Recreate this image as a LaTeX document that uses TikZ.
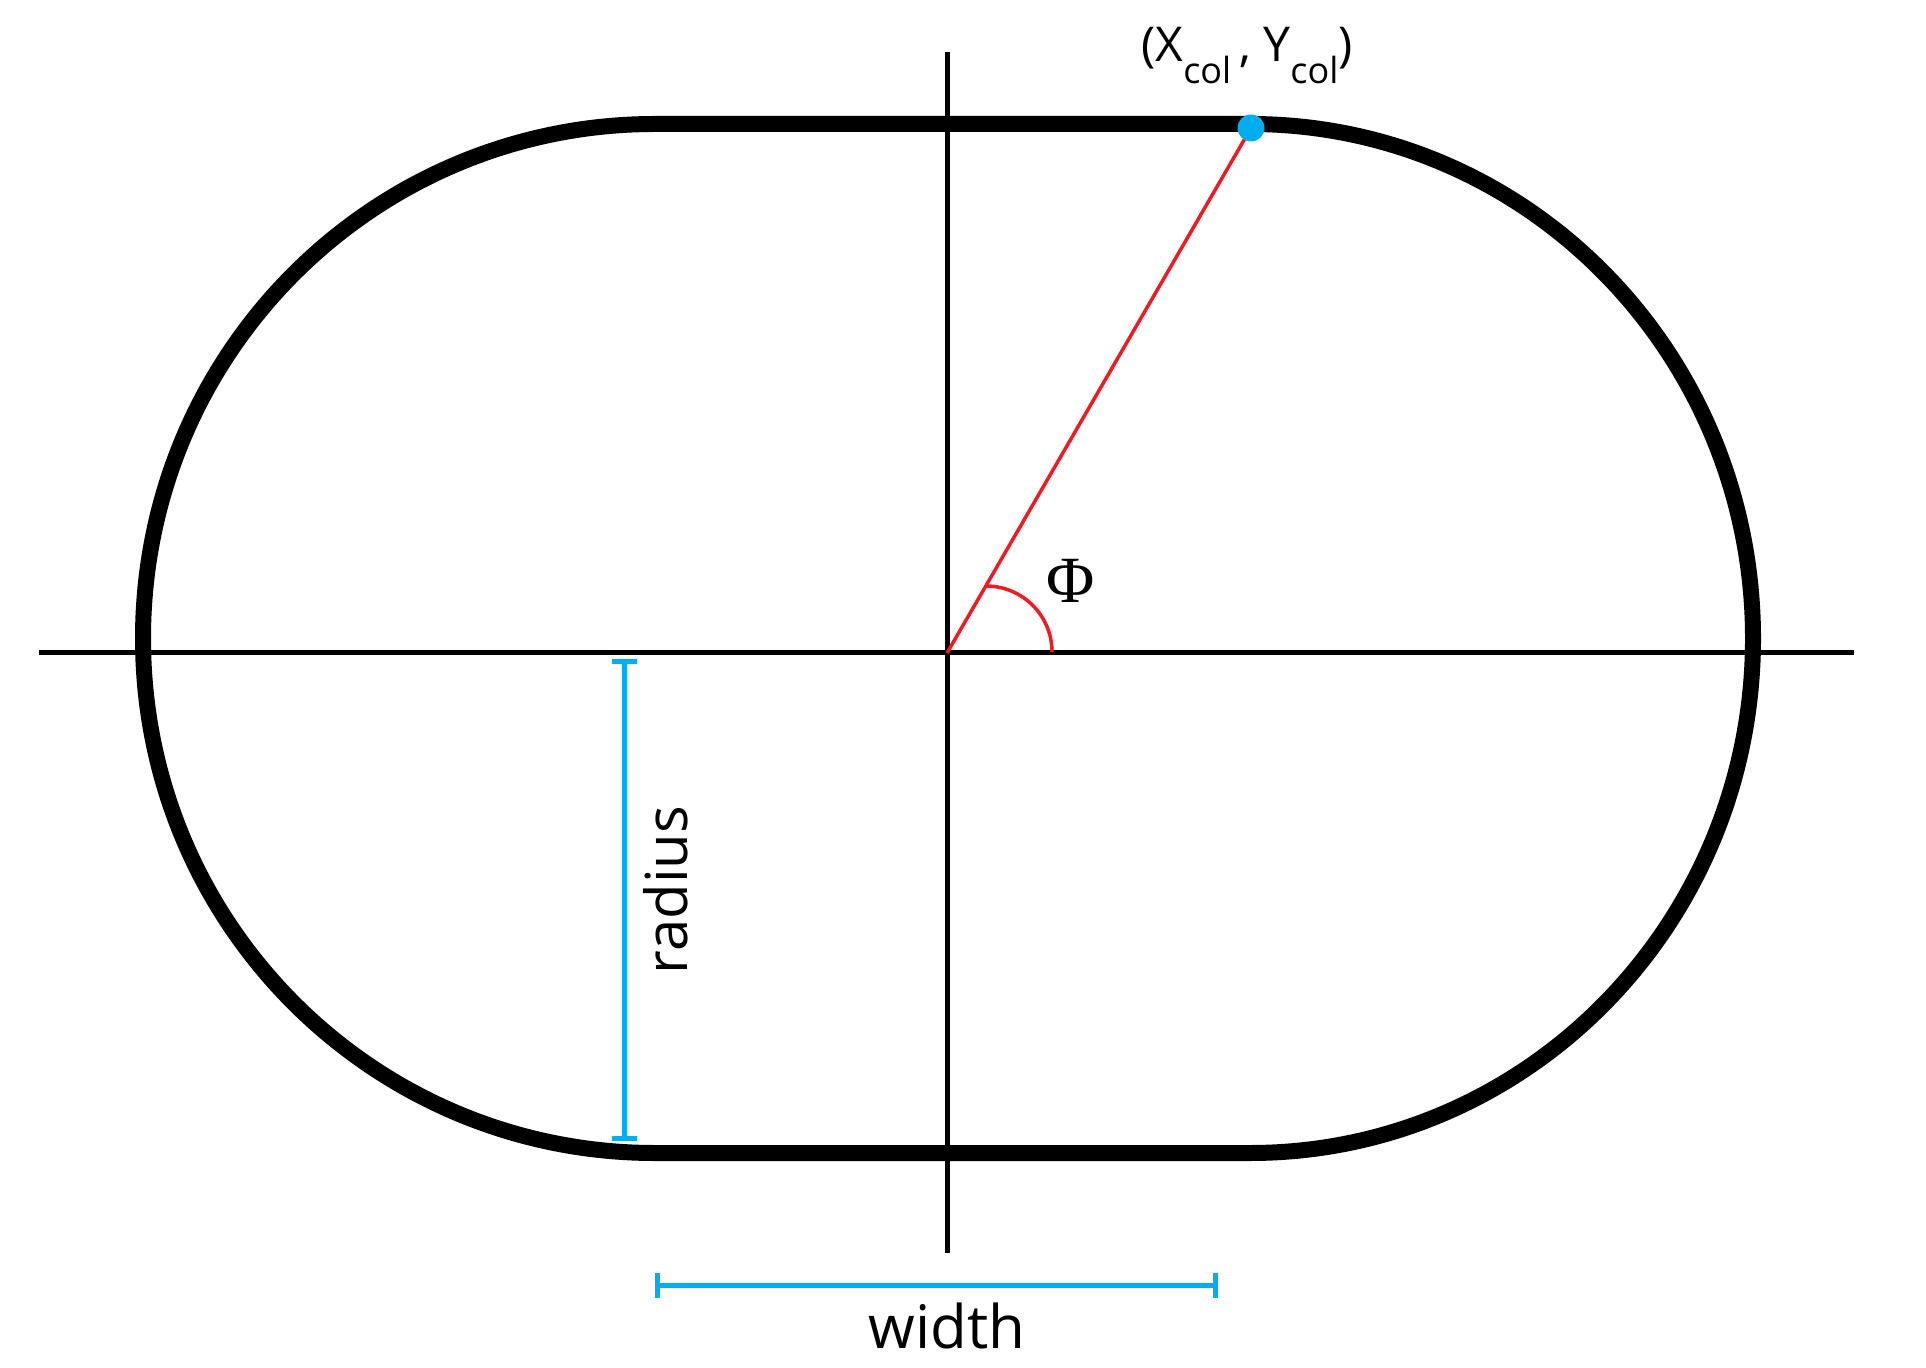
\documentclass[tikz,border=0pt]{standalone}
\usepackage{fontspec}
\setmainfont{Open Sans}
\newfontfamily\phifont{Liberation Serif}
\usetikzlibrary{arrows.meta}
\definecolor{cyanA}{HTML}{00AEEF}
\definecolor{redA}{HTML}{ED1C24}
\newcommand\subcol[1]{\raisebox{-11pt}{\fontsize{18pt}{20pt}\selectfont #1}}
\tikzset{
  stadium/.style={line width=8pt, draw=black},
  axisline/.style={line width=2.5pt, draw=black},
  redline/.style={line width=1.75pt, draw=redA},
  dimbar/.style={line width=2.5pt, draw=cyanA, {Bar[width=12.5pt,line width=2.5pt]}-{Bar[width=12.5pt,line width=2.5pt]}},
  lbl/.style={inner sep=0pt, text=black}
}
\begin{document}
\begin{tikzpicture}[x=0.5pt,y=-0.5pt]
\useasboundingbox (0,0) rectangle (1926,1368);
% stadium outline
\draw[stadium] (655,124) -- (1250,124)
  arc[start angle=-90, end angle=90, x radius=503, y radius=514.5]
  -- (655,1153)
  arc[start angle=90, end angle=270, x radius=512, y radius=514.5] -- cycle;
% axes
\coordinate (O) at (947,653);
\coordinate (HL) at (39,653);
\coordinate (HR) at (1854,653);
\coordinate (VT) at (947,52);
\coordinate (VB) at (947,1253);
\draw[axisline] (HL) -- (HR);
\draw[axisline] (VT) -- (VB);
% red radius line and angle
\coordinate (P) at (1251,128);
\draw[redline] (O) -- (P);
\coordinate (A1) at (986,586);
\draw[redline] (A1) arc[start angle=-90, end angle=0, radius=66];
\node[lbl, anchor=base, font=\phifont\fontsize{33pt}{35pt}\selectfont] (phi) at (1071,603) {Φ};
% collision point
\fill[cyanA] (P) circle[radius=13.5];
\node[lbl, anchor=base, font=\fontsize{24pt}{27pt}\selectfont] (pt) at (1247,62) {(X\subcol{col}\,, Y\subcol{col})};
% radius dimension
\coordinate (R1) at (624,659);
\coordinate (R2) at (624,1141);
\draw[dimbar] (R1) -- (R2);
\node[lbl, anchor=base, rotate=90, font=\fontsize{29pt}{32pt}\selectfont] (rad) at (687,890) {radius};
% width dimension
\coordinate (W1) at (655,1285);
\coordinate (W2) at (1218,1285);
\draw[dimbar] (W1) -- (W2);
\node[lbl, anchor=base, font=\fontsize{30pt}{33pt}\selectfont] (wid) at (947,1348) {width};
\end{tikzpicture}
\end{document}
